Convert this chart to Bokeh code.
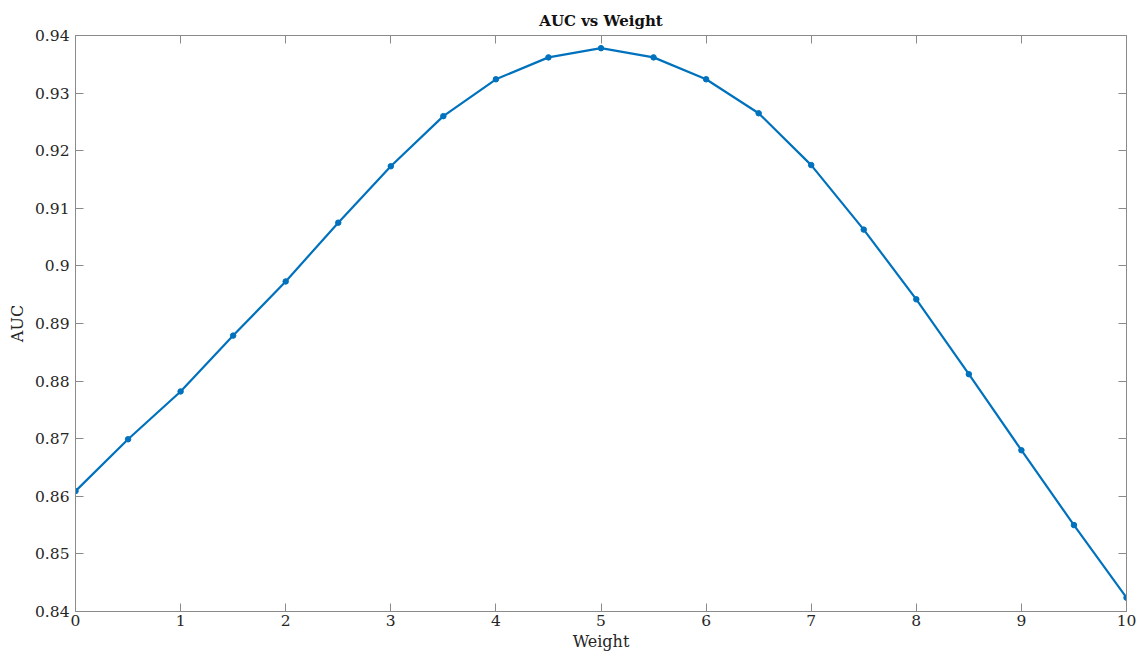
from bokeh.plotting import figure
from bokeh.models import LinearAxis, Range1d, FixedTicker, CustomJSTickFormatter, Title
from bokeh.embed import file_html
from bokeh.resources import INLINE

weight = [0, 0.5, 1, 1.5, 2, 2.5, 3, 3.5, 4, 4.5, 5, 5.5, 6, 6.5, 7, 7.5, 8, 8.5, 9, 9.5, 10]
auc = [0.8609, 0.8699, 0.8782, 0.8879, 0.8973, 0.9075, 0.9173, 0.9260, 0.9324, 0.9362, 0.9378,
       0.9362, 0.9324, 0.9265, 0.9175, 0.9063, 0.8942, 0.8812, 0.8680, 0.8550, 0.8424]
x_ticks = [0, 1, 2, 3, 4, 5, 6, 7, 8, 9, 10]
y_ticks = [0.84, 0.85, 0.86, 0.87, 0.88, 0.89, 0.90, 0.91, 0.92, 0.93, 0.94]

FONT = "DejaVu Serif"
TXT = "#262626"
AX = "#8a8a8a"

p = figure(width=1137, height=653, output_backend="svg", toolbar_location=None,
           x_range=Range1d(0, 10), y_range=Range1d(0.84, 0.94),
           min_border_left=75, min_border_right=11, min_border_top=35, min_border_bottom=40)
p.title = Title(text="AUC vs Weight", align="center", text_font=FONT, text_font_size="15px",
                text_font_style="bold", text_color="#111111", standoff=11)
p.grid.visible = False
p.outline_line_color = None

fmt = CustomJSTickFormatter(code="var s = tick.toFixed(2); s = s.replace(/0+$/, ''); s = s.replace(/\\.$/, ''); return s;")

def style(ax, labels=True):
    ax.axis_line_color = AX
    ax.major_tick_line_color = AX
    ax.minor_tick_line_color = None
    ax.major_tick_in = 8
    ax.major_tick_out = 0
    ax.major_label_text_font = FONT
    ax.major_label_text_font_size = "15.5px"
    ax.major_label_text_color = TXT
    ax.axis_label_text_font = FONT
    ax.axis_label_text_font_size = "16px"
    ax.axis_label_text_font_style = "normal"
    ax.axis_label_text_color = TXT
    if not labels:
        ax.major_label_text_font_size = "0px"
        ax.major_label_text_alpha = 0

xa = p.xaxis[0]
xa.ticker = FixedTicker(ticks=x_ticks)
xa.axis_label = "Weight"
xa.axis_label_standoff = 3
xa.major_label_standoff = 3
style(xa)

ya = p.yaxis[0]
ya.ticker = FixedTicker(ticks=y_ticks)
ya.formatter = fmt
ya.axis_label = "AUC"
ya.axis_label_standoff = 5
ya.major_label_standoff = 6
style(ya)

top = LinearAxis(ticker=FixedTicker(ticks=x_ticks))
style(top, labels=False)
top.major_label_standoff = 0
p.add_layout(top, "above")
right = LinearAxis(ticker=FixedTicker(ticks=y_ticks))
style(right, labels=False)
right.major_label_standoff = 0
p.add_layout(right, "right")

p.line(weight, auc, line_color="#0072BD", line_width=2.2)
p.scatter(weight, auc, size=5.5, fill_color="#0072BD", line_color="#0072BD")

open("out.html", "w").write(file_html(p, INLINE))
